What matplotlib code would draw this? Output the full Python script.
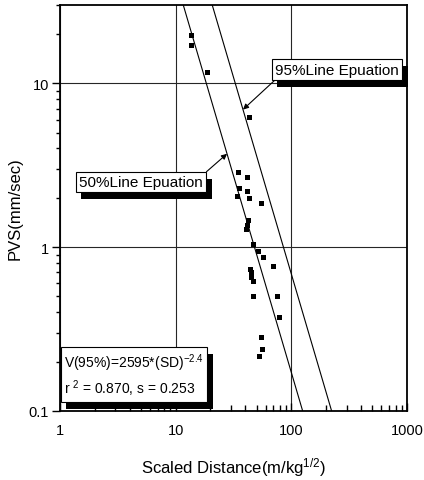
import numpy as np
import matplotlib
matplotlib.use("Agg")
import matplotlib.pyplot as plt
import matplotlib.patheffects as pe

plt.rcParams['font.family'] = ['Liberation Sans', 'DejaVu Sans']
plt.rcParams['mathtext.fontset'] = 'custom'
plt.rcParams['mathtext.rm'] = 'Liberation Sans'
plt.rcParams['mathtext.it'] = 'Liberation Sans:italic'

# measured points (scaled distance, peak particle velocity)
sd = [13.7, 13.5, 18.5, 43.3, 34.8, 41.6, 35.5, 41.0, 34.1, 42.7, 54.6, 42.2, 41.0, 40.5,
      46.9, 51.7, 56.4, 69.8, 44.3, 44.6, 45.0, 46.2, 46.9, 74.6, 77.6, 54.3, 55.4, 52.8]
pvs = [19.7, 17.1, 11.7, 6.25, 2.87, 2.69, 2.28, 2.20, 2.04, 1.99, 1.85, 1.47, 1.37, 1.29,
       1.04, 0.953, 0.875, 0.772, 0.73, 0.70, 0.656, 0.625, 0.505, 0.505, 0.377, 0.283, 0.239, 0.217]

# regression lines V = K * SD^n
k95, k50 = 43250, 10840
n_exp = -2.4

box_labels = ['95%Line Epuation', '50%Line Epuation']
eq_text = 'V(95%)=2595*(SD)$^{-2.4}$\nr $^2$ = 0.870, s = 0.253'

fig = plt.figure(figsize=(4.24, 4.81), dpi=100)
ax = fig.add_axes([0.1415, 0.1435, 0.8184, 0.844])

ax.set_xscale('log')
ax.set_yscale('log')
ax.set_xlim(1, 1000)
ax.set_ylim(0.1, 30)

xs = np.array([1.0, 1000.0])
ax.plot(xs, k95 * xs ** n_exp, color='black', lw=0.8)
ax.plot(xs, k50 * xs ** n_exp, color='black', lw=0.8)

ax.plot(sd, pvs, 's', color='black', ms=3.6, mew=0)

ax.grid(True, which='major', color='0.15', lw=0.8)

for s in ax.spines.values():
    s.set_linewidth(1.3)

ax.tick_params(axis='x', which='major', direction='in', length=6, width=1, pad=9, labelsize=10.5)
ax.tick_params(axis='x', which='minor', direction='in', length=4, width=1)
ax.tick_params(axis='y', which='major', direction='out', length=6, width=1, pad=2, labelsize=10.5)
ax.tick_params(axis='y', which='minor', direction='out', length=3, width=1)
ax.set_xticks([1, 10, 100, 1000])
ax.set_xticklabels(['1', '10', '100', '1000'])
ax.set_yticks([0.1, 1, 10])
ax.set_yticklabels(['0.1', '1', '10'])

ax.set_xlabel('Scaled Distance(m/kg$^{1/2}$)', fontsize=12, labelpad=13)
ax.set_ylabel('PVS(mm/sec)', fontsize=12, labelpad=4)

shadow = [pe.withSimplePatchShadow(offset=(4, -5), shadow_rgbFace='black', alpha=1.0)]
arrow = dict(arrowstyle='-|>', color='black', lw=0.8, mutation_scale=8, shrinkA=0, shrinkB=0)

x95 = 38.2
a1 = ax.annotate(box_labels[0], xy=(x95, k95 * x95 ** n_exp), xytext=(0.798, 0.841),
                 textcoords='axes fraction', ha='center', va='center', fontsize=11,
                 bbox=dict(boxstyle='square,pad=0.22', fc='white', ec='black', lw=0.8),
                 arrowprops=dict(arrow, relpos=(0.03, 0.0)))
a1.get_bbox_patch().set_path_effects(shadow)

x50 = 27.8
a2 = ax.annotate(box_labels[1], xy=(x50, k50 * x50 ** n_exp), xytext=(0.233, 0.564),
                 textcoords='axes fraction', ha='center', va='center', fontsize=11,
                 bbox=dict(boxstyle='square,pad=0.22', fc='white', ec='black', lw=0.8),
                 arrowprops=dict(arrow, relpos=(1.0, 1.0)))
a2.get_bbox_patch().set_path_effects(shadow)

t = ax.text(0.0115, 0.031, eq_text, transform=ax.transAxes, ha='left', va='bottom',
            fontsize=10, linespacing=1.3,
            bbox=dict(boxstyle='square,pad=0.25', fc='white', ec='black', lw=0.8))
t.get_bbox_patch().set_path_effects(shadow)

fig.savefig('out.png', dpi=100)
